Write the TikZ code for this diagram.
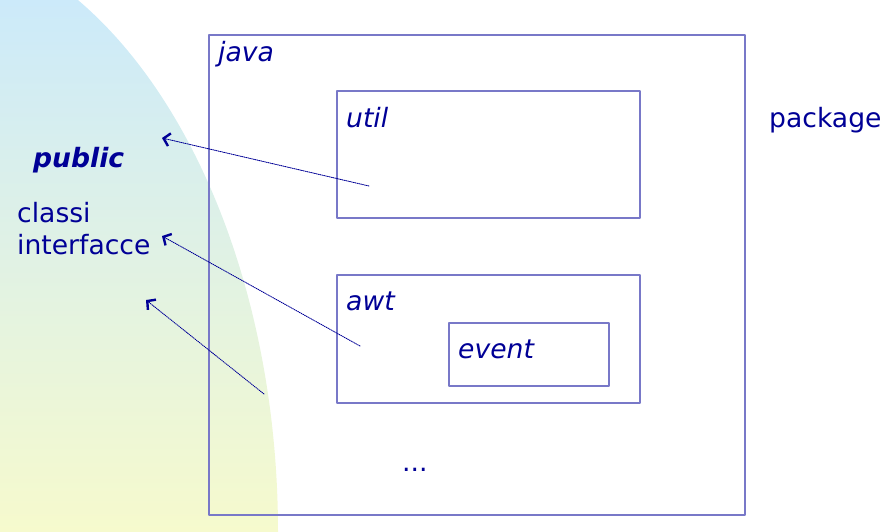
\documentclass[tikz,border=0pt]{standalone}
\usepackage{fontspec}
\setmainfont{DejaVu Sans}
\usetikzlibrary{arrows.meta,positioning}

\definecolor{navytext}{RGB}{0,0,150}
\definecolor{boxline}{RGB}{120,120,200}
\definecolor{skytop}{RGB}{204,234,250}
\definecolor{lemonbottom}{RGB}{246,250,205}

\tikzset{
  pkgbox/.style={draw=boxline, line width=1.2pt},
  lbl/.style={anchor=base west, inner sep=0pt, text=navytext,
    font=\fontsize{26.6}{31}\selectfont},
  pkglbl/.style={lbl, font=\fontsize{26.6}{31}\selectfont\itshape},
  export/.style={-{Straight Barb[length=6pt,width=13pt,line width=2.4pt]},
    draw=navytext, line width=0.9pt, densely dotted}
}

\begin{document}
\begin{tikzpicture}[x=1pt, y=-1pt, line cap=round, line join=round]
\useasboundingbox (0,0) rectangle (893,532);

% background region
\shade[top color=skytop, bottom color=lemonbottom]
  (0,532) -- (278,532) arc[start angle=0, end angle=61.9, x radius=378pt, y radius=603pt]
  -- (0,0) -- cycle;

% packages
\draw[pkgbox] (209,35) rectangle (745,515);
\draw[pkgbox] (337,91) rectangle (640,218);
\draw[pkgbox] (337,275) rectangle (640,403);
\draw[pkgbox] (449,323) rectangle (609,386);

\node[pkglbl] (java) at (218,62) {java};
\node[pkglbl] (util) at (346,127) {util};
\node[pkglbl] (awt) at (346,310) {awt};
\node[pkglbl] (event) at (458,358) {event};
\node[lbl] (dots) at (402,471) {...};
\node[lbl] (package) at (769,127) {package};

% left side
\node[lbl, font=\fontsize{26.6}{31}\selectfont\bfseries\itshape] (public) at (33,167) {public};
\node[lbl] (classi) at (17,222) {classi};
\node[lbl] (interfacce) at (17,254) {interfacce};

\coordinate (fromutil) at (369,186);
\coordinate (fromawt) at (360,346);
\coordinate (fromjava) at (264,394);
\coordinate (toutil) at (162,138);
\coordinate (toawt) at (162,236);
\coordinate (tojava) at (146,300);

\draw[export] (fromutil) -- (toutil);
\draw[export] (fromawt) -- (toawt);
\draw[export] (fromjava) -- (tojava);

\end{tikzpicture}
\end{document}
